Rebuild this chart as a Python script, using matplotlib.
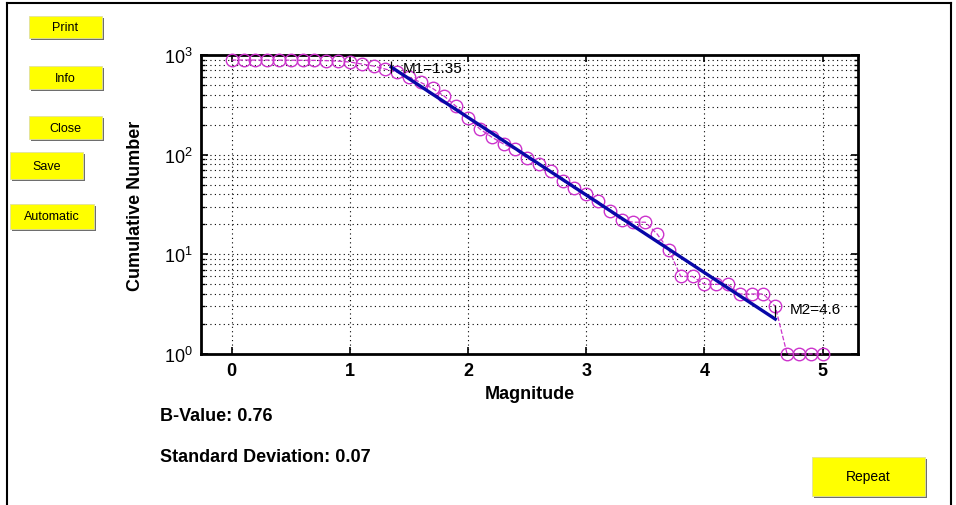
import matplotlib
matplotlib.use('Agg')
import matplotlib.pyplot as plt
from matplotlib.patches import Rectangle
from matplotlib.lines import Line2D
from matplotlib.ticker import LogLocator, FixedLocator

plt.rcParams['font.family'] = ['Liberation Sans', 'DejaVu Sans']
plt.rcParams['mathtext.fontset'] = 'custom'
plt.rcParams['mathtext.rm'] = 'Liberation Sans:bold'
plt.rcParams['mathtext.bf'] = 'Liberation Sans:bold'
plt.rcParams['mathtext.default'] = 'bf'

# 데이터 --- 누적 지진 수 (magnitude별)
magnitude = [0.0, 0.1, 0.2, 0.3, 0.4, 0.5, 0.6, 0.7, 0.8, 0.9,
             1.0, 1.1, 1.2, 1.3, 1.4, 1.5, 1.6, 1.7, 1.8, 1.9,
             2.0, 2.1, 2.2, 2.3, 2.4, 2.5, 2.6, 2.7, 2.8, 2.9,
             3.0, 3.1, 3.2, 3.3, 3.4, 3.5, 3.6, 3.7, 3.8, 3.9,
             4.0, 4.1, 4.2, 4.3, 4.4, 4.5, 4.6, 4.7, 4.8, 4.9, 5.0]
cum_number = [890, 890, 889, 889, 888, 887, 885, 883, 878, 868,
              850, 812, 775, 722, 672, 600, 530, 462, 385, 305,
              235, 181, 150, 128, 113, 92, 80, 68, 55, 46,
              40, 34, 27, 22, 21, 21, 16, 11, 6, 6,
              5, 5, 5, 4, 4, 4, 3, 1, 1, 1, 1]

# 직선 적합 (M1 ~ M2)
fit_mag = [1.35, 4.6]
fit_number = [757, 2.24]
m1_label = 'M1=1.35'
m2_label = 'M2=4.6'
b_value = 0.76
std_dev = 0.07

buttons = ['Print', 'Info', 'Close', 'Save', 'Automatic', 'Repeat']

W, H = 956, 506
fig = plt.figure(figsize=(W / 100, H / 100), dpi=100)
fig.patch.set_facecolor('white')


def fx(px):
    return px / W


def fy(py):
    return 1 - py / H


ax = fig.add_axes([fx(201), fy(355), fx(858) - fx(201), fy(56) - fy(355)])
ax.set_yscale('log')
ax.set_xlim(-0.26, 5.3)
ax.set_ylim(1, 1000)

# 곡선 그리기
ax.plot(magnitude, cum_number, linestyle='--', color='#cc33cc', linewidth=0.9,
        marker='o', markersize=9, markerfacecolor='none', markeredgecolor='#cc33cc',
        markeredgewidth=1.0, clip_on=False, zorder=3)
ax.plot(fit_mag, fit_number, color='#0808a8', linewidth=2.4, zorder=4)

# M1, M2 표시
ax.plot([fit_mag[0]], [fit_number[0]], marker='|', color='black', markersize=9, mew=0.9, zorder=5)
ax.plot([fit_mag[1]], [fit_number[1] * 1.2], marker='|', color='black', markersize=9, mew=0.9, zorder=5)
ax.text(fit_mag[0] + 0.1, fit_number[0] * 0.98, m1_label, fontsize=11, va='center', ha='left',
        family=['Liberation Sans'])
ax.text(fit_mag[1] + 0.12, fit_number[1] * 1.25, m2_label, fontsize=11, va='center', ha='left',
        family=['Liberation Sans'])

# 축, 격자
ax.xaxis.set_major_locator(FixedLocator([0, 1, 2, 3, 4, 5]))
ax.yaxis.set_major_locator(LogLocator(base=10, numticks=10))
ax.yaxis.set_minor_locator(LogLocator(base=10, subs=range(2, 10), numticks=10))
ax.grid(True, which='major', axis='both', color='black', linestyle=(0, (1, 3)), linewidth=0.8)
ax.grid(True, which='minor', axis='y', color='black', linestyle=(0, (1, 3)), linewidth=0.8)
ax.tick_params(which='both', direction='in', top=True, right=True)
ax.tick_params(which='major', length=5, width=1.2, labelsize=13, pad=6)
ax.tick_params(which='minor', length=3, width=1.0)
for lab in ax.get_xticklabels():
    lab.set_fontweight('bold')
for s in ax.spines.values():
    s.set_linewidth(2.0)

ax.set_xlabel('Magnitude', fontsize=13, fontweight='bold', labelpad=4)
ax.set_ylabel('Cumulative Number', fontsize=13, fontweight='bold', labelpad=14)

fig.text(fx(160), fy(417), f'B-Value: {b_value:.2f}', fontsize=13, fontweight='bold', va='center')
fig.text(fx(160), fy(458), f'Standard Deviation: {std_dev:.2f}', fontsize=13, fontweight='bold', va='center')

# 버튼 그리기
btn_boxes = [(29, 17, 102, 39), (29, 67, 102, 90), (29, 117, 102, 140),
             (10, 153, 83, 180), (10, 205, 94, 230), (812, 458, 925, 497)]
for name, (x0, y0, x1, y1) in zip(buttons, btn_boxes):
    fig.add_artist(Rectangle((fx(x0 + 2), fy(y1 + 2)), fx(x1 - x0), fy(y0) - fy(y1),
                             transform=fig.transFigure, facecolor='#6e6e6e', edgecolor='none'))
    fig.add_artist(Rectangle((fx(x0), fy(y1)), fx(x1 - x0), fy(y0) - fy(y1),
                             transform=fig.transFigure, facecolor='#ffff00', edgecolor='#e0e0a0',
                             linewidth=0.6))
    fig.text(fx((x0 + x1) / 2), fy((y0 + y1) / 2), name, fontsize=9 if name != 'Repeat' else 10,
             ha='center', va='center')

# 테두리
fig.add_artist(Line2D([fx(7), fx(951)], [fy(4), fy(4)], transform=fig.transFigure, color='black', lw=1.5))
fig.add_artist(Line2D([fx(7), fx(7)], [fy(4), 0], transform=fig.transFigure, color='black', lw=1.5))
fig.add_artist(Line2D([fx(951), fx(951)], [fy(4), 0], transform=fig.transFigure, color='black', lw=1.5))

plt.savefig('out.png', dpi=100)
